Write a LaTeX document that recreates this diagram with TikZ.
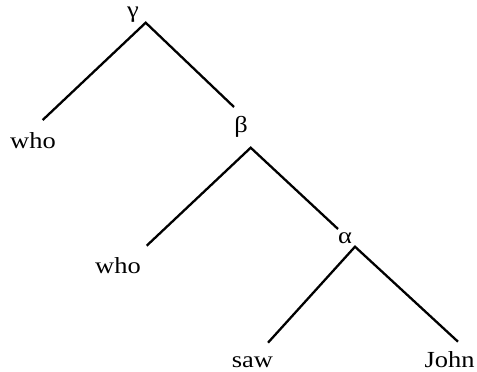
\documentclass[tikz,border=0pt]{standalone}
\usepackage{fontspec}
\setmainfont[FakeStretch=1.15]{Liberation Serif}
\begin{document}
\begin{tikzpicture}[x=1pt,y=-1pt,
  lbl/.style={anchor=base,inner sep=0pt,font=\fontsize{23}{27}\selectfont},
  edge/.style={line width=2.3pt,line cap=butt,line join=miter}]
\useasboundingbox (0,0) rectangle (477,372);
% labels
\node[lbl] (g) at (133,17) {γ};
\node[lbl] (b) at (241,132) {β};
\node[lbl] (a) at (345,243) {α};
\node[lbl] (who1) at (33,148) {who};
\node[lbl] (who2) at (118,273) {who};
\node[lbl] (saw) at (252.5,367) {saw};
\node[lbl] (john) at (449.5,367) {John};
% connector points
\coordinate (gt) at (145.7,22.7);
\coordinate (gl) at (42.7,120);
\coordinate (gr) at (234,107);
\coordinate (bt) at (250.7,147.7);
\coordinate (bl) at (146.7,245.7);
\coordinate (br) at (338,229);
\coordinate (at) at (355,246.7);
\coordinate (al) at (268,342.7);
\coordinate (ar) at (458,341.7);
\draw[edge] (gl) -- (gt) -- (gr);
\draw[edge] (bl) -- (bt) -- (br);
\draw[edge] (al) -- (at) -- (ar);
\end{tikzpicture}
\end{document}
